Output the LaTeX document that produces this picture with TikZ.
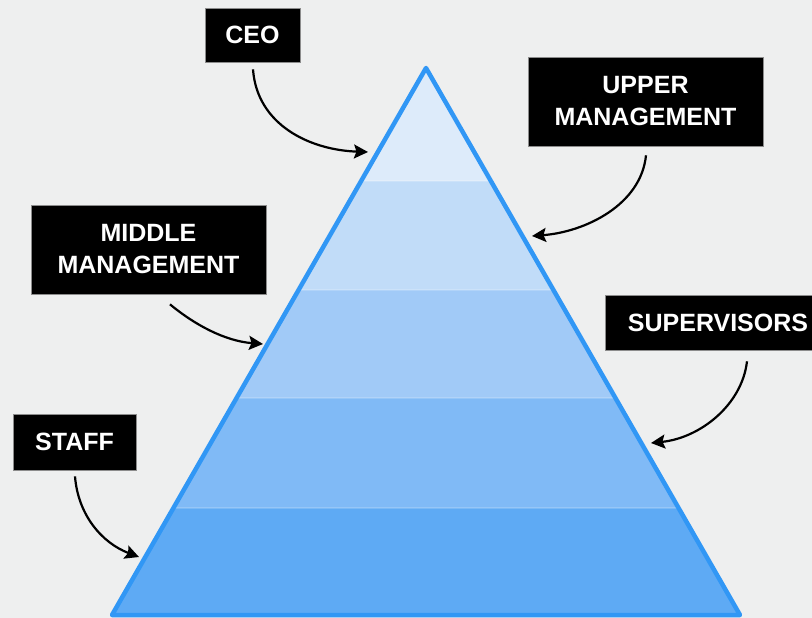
\documentclass[tikz,border=0pt]{standalone}
\usepackage{fontspec}
\setmainfont{Liberation Sans}
\usetikzlibrary{calc,arrows.meta}
\definecolor{bg}{HTML}{EEEFEF}
\definecolor{edge}{HTML}{3197F5}
\definecolor{bandA}{HTML}{DDEBFA}
\definecolor{bandB}{HTML}{C1DCF8}
\definecolor{bandC}{HTML}{A1CAF7}
\definecolor{bandD}{HTML}{80BAF6}
\definecolor{bandE}{HTML}{5EAAF4}
\begin{document}
\begin{tikzpicture}[x=1pt,y=-1pt,
  lbl/.style={fill=black, draw=black!45, line width=0.7pt, text=white,
    font=\bfseries\fontsize{25}{32}\selectfont, align=center, inner sep=0pt},
  pointer/.style={-{Stealth[length=14pt,width=14pt,inset=2.5pt]}, line width=2.2pt, black},
  sep/.style={white, opacity=0.18, line width=1.5pt}]
\useasboundingbox (0,0) rectangle (812,618);
\clip (0,0) rectangle (812,618);
\fill[bg] (0,0) rectangle (812,618);

% triangle vertices
\coordinate (apex) at (426,68);
\coordinate (bl) at (112,615);
\coordinate (br) at (740,615);
% band boundaries
\foreach \n/\t in {1/0.2066,2/0.4059,3/0.6033,4/0.8044}{
  \coordinate (l\n) at ($(apex)!\t!(bl)$);
  \coordinate (r\n) at ($(apex)!\t!(br)$);
}
\fill[bandA] (apex) -- (l1) -- (r1) -- cycle;
\fill[bandB] (l1) -- (l2) -- (r2) -- (r1) -- cycle;
\fill[bandC] (l2) -- (l3) -- (r3) -- (r2) -- cycle;
\fill[bandD] (l3) -- (l4) -- (r4) -- (r3) -- cycle;
\fill[bandE] (l4) -- (bl) -- (br) -- (r4) -- cycle;
\foreach \n in {1,2,3,4}{\draw[sep] (l\n) -- (r\n);}
\draw[edge, line width=4.5pt, line join=round] (apex) -- (bl) -- (br) -- cycle;

% labels
\node[lbl, minimum width=95pt, minimum height=54pt] (ceo) at (252.5,35) {CEO};
\node[lbl, minimum width=235pt, minimum height=89pt] (upper) at (645.5,101.5) {UPPER\\MANAGEMENT};
\node[lbl, minimum width=235pt, minimum height=89pt] (middle) at (148.5,249.5) {MIDDLE\\MANAGEMENT};
\node[lbl, minimum width=226pt, minimum height=55pt] (super) at (718,322.5) {SUPERVISORS};
\node[lbl, minimum width=123pt, minimum height=56pt] (staff) at (74.5,442) {STAFF};

% arrow targets on the triangle edges
\coordinate (tceo) at (368,152);
\coordinate (tupper) at (532,236);
\coordinate (tmiddle) at (263,344);
\coordinate (tsuper) at (651,443);
\coordinate (tstaff) at (139,557);

\draw[pointer] ($(ceo.south)+(0.5,7)$) .. controls (257,125) and (310,150) .. (tceo);
\draw[pointer] ($(upper.south)+(0.5,9)$) .. controls (641,205) and (585,232) .. (tupper);
\draw[pointer] ($(middle.south)+(21.5,10)$) .. controls (195,325) and (225,341) .. (tmiddle);
\draw[pointer] ($(super.south)+(29,11)$) .. controls (742,405) and (700,438) .. (tsuper);
\draw[pointer] ($(staff.south)+(0.5,6)$) .. controls (78,515) and (102,543) .. (tstaff);
\end{tikzpicture}
\end{document}
